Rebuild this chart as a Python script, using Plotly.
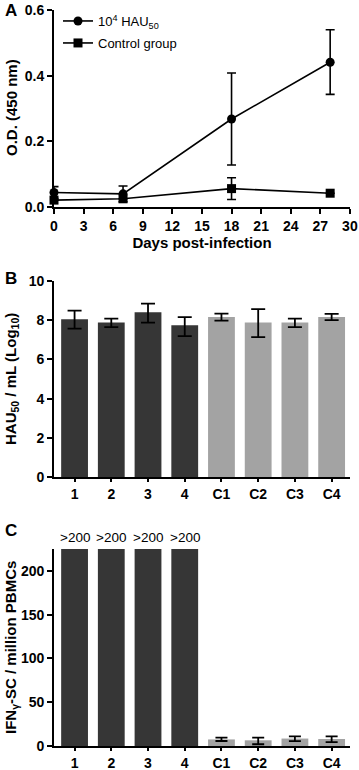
import plotly.graph_objects as go

# Panel A data
days = [0, 7, 18, 28]
od_infected = [0.044, 0.040, 0.268, 0.441]
od_infected_err_plus = [0.018, 0.024, 0.140, 0.099]
od_infected_err_minus = [0.018, 0.024, 0.140, 0.098]
od_control = [0.021, 0.025, 0.056, 0.042]
od_control_err = [0.0, 0.0, 0.033, 0.0]
day_ticks = [0, 3, 6, 9, 12, 15, 18, 21, 24, 27, 30]

# Panel B data
groups = ["1", "2", "3", "4", "C1", "C2", "C3", "C4"]
hau = [8.05, 7.88, 8.40, 7.74, 8.16, 7.88, 7.88, 8.16]
hau_err_plus = [0.44, 0.20, 0.45, 0.42, 0.18, 0.68, 0.20, 0.16]
hau_err_minus = [0.48, 0.23, 0.52, 0.55, 0.18, 0.74, 0.23, 0.16]

# Panel C data (groups 1-4 are >200, drawn beyond the axis top)
ifn = [250, 250, 250, 250, 7.5, 6.5, 8.5, 8.0]
ifn_err_plus = [0, 0, 0, 0, 2.0, 3.1, 2.5, 3.0]
ifn_err_minus = [0, 0, 0, 0, 1.8, 4.5, 3.0, 3.5]
ifn_labels = [">200", ">200", ">200", ">200"]

bar_colors = ["#363636"] * 4 + ["#a3a3a3"] * 4

W, H = 359, 770
PLOT_LEFT, PLOT_RIGHT = 54, 350          # page pixels
ML = PLOT_LEFT
MR = W - PLOT_RIGHT
PW = W - ML - MR

def px_y(page_y):
    return 1 - page_y / H

def ydom(top_px, bot_px):
    return [px_y(bot_px), px_y(top_px)]

def px_x(page_x):
    return (page_x - ML) / PW

FONT = "Liberation Sans, Arial, sans-serif"
tickfont = dict(family=FONT, size=14, color="black", weight="bold")
title_font = dict(family=FONT, size=15, color="black", weight="bold")

fig = go.Figure()

fig.add_trace(go.Scatter(
    x=days, y=od_infected, mode="lines+markers", name="10<sup>4</sup> HAU<sub>50</sub>",
    line=dict(color="black", width=1.6), marker=dict(symbol="circle", size=9, color="black"),
    error_y=dict(type="data", array=od_infected_err_plus, arrayminus=od_infected_err_minus,
                 color="black", thickness=1.6, width=4.5),
    cliponaxis=False, xaxis="x", yaxis="y", legend="legend"))
fig.add_trace(go.Scatter(
    x=days, y=od_control, mode="lines+markers", name="Control group",
    line=dict(color="black", width=1.6), marker=dict(symbol="square", size=9, color="black"),
    error_y=dict(type="data", array=od_control_err, color="black", thickness=1.6, width=4.5),
    cliponaxis=False, xaxis="x", yaxis="y", legend="legend2"))

fig.add_trace(go.Bar(
    x=groups, y=hau, marker=dict(color=bar_colors, line=dict(width=0)),
    error_y=dict(type="data", array=hau_err_plus, arrayminus=hau_err_minus,
                 color="black", thickness=1.8, width=7),
    showlegend=False, xaxis="x2", yaxis="y2"))

fig.add_trace(go.Bar(
    x=groups, y=ifn, marker=dict(color=bar_colors, line=dict(width=0)),
    error_y=dict(type="data", array=ifn_err_plus, arrayminus=ifn_err_minus,
                 color="black", thickness=1.8, width=6),
    showlegend=False, xaxis="x3", yaxis="y3"))

axis_common = dict(showline=True, linecolor="black", linewidth=1.8, ticks="outside",
                   ticklen=5, tickwidth=1.6, tickcolor="black", showgrid=False,
                   zeroline=False, tickfont=tickfont, ticklabeloverflow="allow",
                   automargin=False)

legend_common = dict(xanchor="left", yanchor="middle",
                     font=dict(family=FONT, size=13, color="black"),
                     bgcolor="rgba(0,0,0,0)", itemwidth=30)

fig.update_layout(
    width=W, height=H, margin=dict(l=ML, r=MR, t=0, b=0, autoexpand=False),
    plot_bgcolor="white", paper_bgcolor="white", bargap=0.27,
    showlegend=True,
    legend=dict(x=px_x(58), y=px_y(21), **legend_common),
    legend2=dict(x=px_x(58), y=px_y(43), **legend_common),
    xaxis=dict(domain=[0, 1], range=[0, 30.01], tickvals=day_ticks, anchor="y",
               title=dict(text="Days post-infection", standoff=2, font=title_font),
               **axis_common),
    yaxis=dict(domain=ydom(10, 207), range=[0, 0.6], dtick=0.2, tickformat=".1f",
               anchor="x", **axis_common),
    xaxis2=dict(domain=[0, 1], range=[-0.56, 7.5], anchor="y2", type="category",
                **{**axis_common, "ticklen": 3}),
    yaxis2=dict(domain=ydom(281, 477), range=[0, 10], dtick=2, anchor="x2", **axis_common),
    xaxis3=dict(domain=[0, 1], range=[-0.56, 7.5], anchor="y3", type="category",
                **{**axis_common, "ticklen": 3}),
    yaxis3=dict(domain=ydom(549, 746), range=[0, 225], tickvals=[0, 50, 100, 150, 200],
                anchor="x3", **axis_common),
)

letter_font = dict(family=FONT, size=17, color="black", weight="bold")
anns = [
    dict(text="A", x=px_x(3), y=px_y(10), xanchor="left", font=letter_font),
    dict(text="B", x=px_x(3), y=px_y(278), xanchor="left", font=letter_font),
    dict(text="C", x=px_x(3), y=px_y(530), xanchor="left", font=letter_font),
    dict(text="O.D. (450 nm)", x=px_x(11), y=px_y(108), textangle=-90, font=title_font),
    dict(text="HAU<sub>50</sub> / mL (Log<sub>10</sub>)", x=px_x(11), y=px_y(379),
         textangle=-90, font=title_font),
    dict(text="IFN<sub>γ</sub>-SC / million PBMCs", x=px_x(11), y=px_y(648),
         textangle=-90, font=title_font),
]
for a in anns:
    a.setdefault("xanchor", "center")
    a.setdefault("yanchor", "middle")
    a.update(xref="paper", yref="paper", showarrow=False)
    fig.add_annotation(**a)

for i, lab in enumerate(ifn_labels):
    fig.add_annotation(text=lab, x=i, xref="x3", y=px_y(537), yref="paper",
                       xanchor="center", yanchor="middle",
                       showarrow=False, font=dict(family=FONT, size=13.5, color="black"))

fig.write_html("out.html", config={"displayModeBar": False},
               post_script="document.body.style.margin='0px';")
